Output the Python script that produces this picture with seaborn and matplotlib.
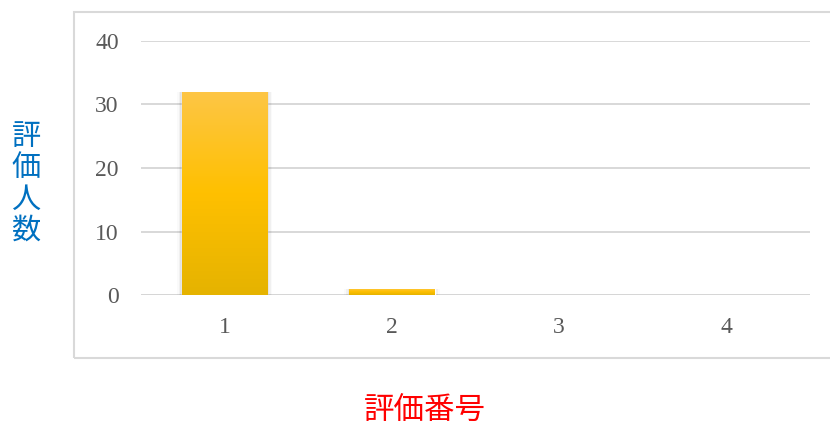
import numpy as np
import pandas as pd
import seaborn as sns
from matplotlib import pyplot as plt
from matplotlib.colors import LinearSegmentedColormap
from matplotlib.patches import Rectangle

categories = ["1", "2", "3", "4"]
counts = [32, 1, 0, 0]
y_ticks = [0, 10, 20, 30, 40]

x_label = "評価番号"
y_label = "評価人数"

sns.set_theme(style="white")
plt.rcParams["font.family"] = ["Noto Sans CJK JP", "DejaVu Sans"]

df = pd.DataFrame({"category": categories, "count": counts})

fig = plt.figure(figsize=(8.3, 4.28), dpi=100)
ax = fig.add_axes([141 / 830, 1 - 295 / 428, 669 / 830, 254 / 428])

sns.barplot(data=df, x="category", y="count", color="#FFC000", width=0.51, ax=ax, zorder=3)

# gradient fill on each bar
grad = LinearSegmentedColormap.from_list("gold", ["#E5B300", "#FFC000", "#FDC646"])
for patch in ax.patches:
    h = patch.get_height()
    if h <= 0:
        patch.set_visible(False)
        continue
    x0, w = patch.get_x(), patch.get_width()
    # soft shadow
    for k, a in enumerate([0.06, 0.04, 0.02]):
        off = 0.01 * (k + 1)
        sh = Rectangle((x0 - off, -0.15 * (k + 1)), w + 2 * off, h + 0.12 * (k + 1),
                       facecolor="black", alpha=a, edgecolor="none", zorder=2)
        ax.add_patch(sh)
    img = ax.imshow(np.linspace(0, 1, 256).reshape(-1, 1), cmap=grad, origin="lower",
                    extent=[x0, x0 + w, 0, h], aspect="auto", zorder=4)
    img.set_clip_path(patch)

ax.set_xlim(-0.5, 3.5)
ax.set_ylim(0, 40)
ax.set_yticks(y_ticks)
ax.yaxis.grid(True, color="#D6D6D6", linewidth=1.3, zorder=0)
ax.axhline(0, color="#D6D6D6", linewidth=1.3, zorder=1)
for s in ax.spines.values():
    s.set_visible(False)
ax.tick_params(axis="both", length=0, labelcolor="#595959", labelsize=17)
ax.tick_params(axis="y", pad=16)
ax.tick_params(axis="x", pad=16)
for lbl in ax.get_xticklabels() + ax.get_yticklabels():
    lbl.set_fontfamily(["Liberation Serif", "DejaVu Serif"])
ax.set_xlabel("")
ax.set_ylabel("")

# outer chart border
fig.patches.append(Rectangle((73.5 / 830, 1 - 358 / 428), 760 / 830, 346 / 428,
                             transform=fig.transFigure, fill=False,
                             edgecolor="#D9D9D9", linewidth=1.5))

fig.text(425 / 830, 1 - 410 / 428, x_label, color="#FF0000", fontsize=22,
         ha="center", va="center")
fig.text(26 / 830, 1 - 184 / 428, "\n".join(y_label), color="#0070C0", fontsize=21,
         ha="center", va="center", linespacing=1.05)

fig.savefig("out.png", dpi=100)
